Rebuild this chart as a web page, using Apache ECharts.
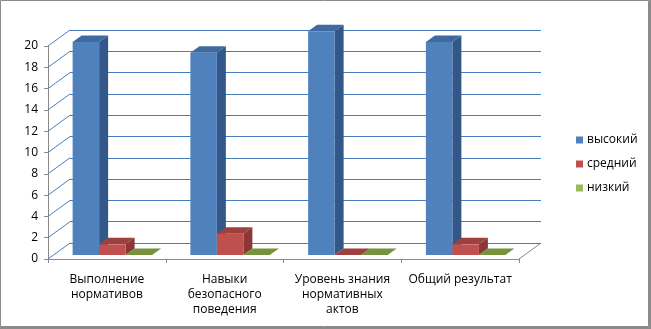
<!DOCTYPE html>
<html>
<head>
<meta charset="utf-8">
<script src="https://cdn.jsdelivr.net/npm/echarts@6/dist/echarts.min.js"></script>
<style>
  html, body { margin: 0; padding: 0; background: #fff; }
  #chart { width: 651px; height: 329px; }
</style>
</head>
<body>
<div id="chart"></div>
<script>
// данные диаграммы
const categories = ['Выполнение\nнормативов', 'Навыки\nбезопасного\nповедения', 'Уровень знания\nнормативных\nактов', 'Общий результат']
const seriesNames = ['высокий', 'средний', 'низкий']
const highValues = [20, 19, 21, 20]
const midValues = [1, 2, 0, 1]
const lowValues = [0, 0, 0, 0]
const yTicks = [0, 2, 4, 6, 8, 10, 12, 14, 16, 18, 20]

// псевдо-3D: смещение задней стенки, плоскости столбиков и глубина столбика
const DEPTH = { dx: 22, dy: -16 }
const SHIFT = { dx: 5.5, dy: -4 }
const BAR_DEPTH = { dx: 9, dy: -6.5 }
const FONT = 'Open Sans'

const front = { left: 48, top: 46, width: 471, height: 213 }
const back = { left: front.left + DEPTH.dx, top: front.top + DEPTH.dy, width: front.width, height: front.height }

const palette = [
  { front: '#4F81BD', side: '#34578A', top: '#3E6AA0' },
  { front: '#C0504D', side: '#8A3735', top: '#9E403D' },
  { front: '#9BBB59', side: '#6F8A3A', top: '#76923C' }
]

const barRenderer = slot => (params, api) => {
  const cat = api.value(0)
  const val = api.value(1)
  const base = api.coord([cat, 0])
  const top = api.coord([cat, val])
  const w = api.size([1, 0])[0] * 0.225
  const x0 = base[0] + SHIFT.dx - 1.5 * w + slot * w
  const x1 = x0 + w
  const yb = base[1] + SHIFT.dy
  const yt = top[1] + SHIFT.dy
  const c = palette[slot]
  const children = [
    {
      type: 'polygon',
      shape: { points: [[x1, yt], [x1 + BAR_DEPTH.dx, yt + BAR_DEPTH.dy], [x1 + BAR_DEPTH.dx, yb + BAR_DEPTH.dy], [x1, yb]] },
      style: { fill: c.side }
    },
    {
      type: 'polygon',
      shape: { points: [[x0, yt], [x1, yt], [x1 + BAR_DEPTH.dx, yt + BAR_DEPTH.dy], [x0 + BAR_DEPTH.dx, yt + BAR_DEPTH.dy]] },
      style: { fill: c.top }
    }
  ]
  if (yb - yt > 0.5) {
    children.push({ type: 'rect', shape: { x: x0, y: yt, width: w, height: yb - yt }, style: { fill: c.front } })
  }
  return { type: 'group', children }
}

// диагонали от передней оси к задней стенке
const frameRenderer = (params, api) => {
  const cs = params.coordSys
  const v = api.value(0)
  const y = api.coord([0, v])[1]
  const lines = [{
    type: 'line',
    shape: { x1: cs.x, y1: y, x2: cs.x + DEPTH.dx, y2: y + DEPTH.dy },
    style: { stroke: '#4A7EBB', lineWidth: 1 }
  }]
  if (v === 0) {
    lines.push({
      type: 'line',
      shape: { x1: cs.x + cs.width, y1: y, x2: cs.x + cs.width + DEPTH.dx, y2: y + DEPTH.dy },
      style: { stroke: '#898989', lineWidth: 1 }
    })
  }
  return { type: 'group', children: lines }
}

const chart = echarts.init(document.getElementById('chart'))

const option = {
  animation: false,
  backgroundColor: '#fff',
  textStyle: { fontFamily: FONT },
  graphic: [
    { type: 'rect', shape: { x: 0.5, y: 0.5, width: 648, height: 326 }, style: { fill: 'none', stroke: '#8a8a8a', lineWidth: 1 }, z: 100 },
    { type: 'rect', shape: { x: 649, y: 0, width: 2, height: 329 }, style: { fill: '#8a8a8a' }, z: 100 },
    { type: 'rect', shape: { x: 0, y: 327, width: 651, height: 2 }, style: { fill: '#8a8a8a' }, z: 100 }
  ],
  legend: {
    data: seriesNames,
    orient: 'vertical',
    left: 576,
    top: 134,
    padding: 0,
    icon: 'rect',
    itemWidth: 7,
    itemHeight: 7,
    itemGap: 12,
    textStyle: { fontFamily: FONT, fontSize: 12, color: '#000', padding: [0, 0, 0, -1] }
  },
  grid: [
    { left: front.left, top: front.top, width: front.width, height: front.height },
    { left: back.left, top: back.top, width: back.width, height: back.height }
  ],
  xAxis: [
    {
      type: 'category',
      gridIndex: 0,
      data: categories,
      axisLine: { lineStyle: { color: '#898989' } },
      axisTick: { show: true, length: 4, lineStyle: { color: '#898989' } },
      axisLabel: { color: '#000', fontSize: 12, lineHeight: 15, margin: 13, interval: 0 }
    },
    { type: 'category', gridIndex: 1, data: categories, show: false }
  ],
  yAxis: [
    {
      type: 'value',
      gridIndex: 0,
      min: 0,
      max: 20,
      interval: 2,
      axisLine: { show: true, lineStyle: { color: '#898989' } },
      axisTick: { show: true, length: 4, lineStyle: { color: '#898989' } },
      axisLabel: { color: '#000', fontSize: 12, margin: 10, padding: [3, 0, 0, 0] },
      splitLine: { show: false }
    },
    {
      type: 'value',
      gridIndex: 1,
      min: 0,
      max: 20,
      interval: 2,
      axisLine: { show: false },
      axisTick: { show: false },
      axisLabel: { show: false },
      splitLine: { show: true, lineStyle: { color: '#4A7EBB', width: 1 } }
    }
  ],
  series: [
    {
      name: 'frame',
      type: 'custom',
      xAxisIndex: 0,
      yAxisIndex: 0,
      renderItem: frameRenderer,
      data: yTicks.map(v => [v]),
      encode: { y: 0 },
      silent: true,
      z: 1
    },
    ...[highValues, midValues, lowValues].map((vals, i) => ({
      name: seriesNames[i],
      type: 'custom',
      xAxisIndex: 0,
      yAxisIndex: 0,
      itemStyle: { color: palette[i].front },
      renderItem: barRenderer(i),
      data: vals.map((v, k) => [k, v]),
      encode: { x: 0, y: 1 },
      clip: false,
      z: 2 + i
    }))
  ]
}

chart.setOption(option)
</script>
</body>
</html>
